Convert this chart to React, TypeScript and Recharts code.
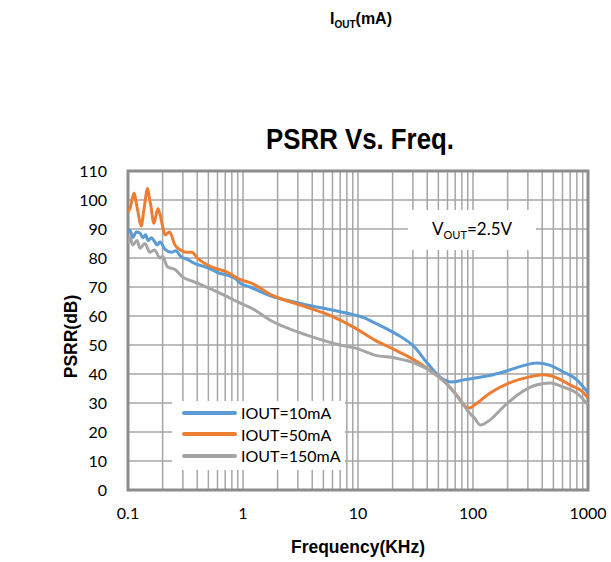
import React from 'react';
import {
  LineChart,
  Line,
  XAxis,
  YAxis,
  CartesianGrid,
  ReferenceArea,
} from 'recharts';

type Pt = { f: number; db: number };

// PSRR readings, frequency in kHz, rejection in dB
const iout10mA: [number, number][] = [
  [0.1, 89], [0.104, 89.6], [0.11, 87], [0.118, 89], [0.127, 88.6], [0.135, 87],
  [0.142, 88], [0.15, 86], [0.16, 87], [0.17, 85.7], [0.18, 84.5], [0.19, 85.5],
  [0.21, 83], [0.24, 82], [0.26, 82.5], [0.29, 80.4], [0.33, 79.5], [0.36, 78.6],
  [0.42, 77.5], [0.47, 77], [0.6, 75], [0.85, 73], [0.94, 71.4], [1.15, 70],
  [1.83, 66.6], [2.5, 65.3], [3.6, 63.8], [6.1, 62], [9.4, 60.3], [11.5, 59.3],
  [14, 57.6], [21, 54], [31, 49.3], [40, 43.8], [53, 38.6], [65, 37.2], [84, 38],
  [103, 38.6], [140, 39.5], [183, 40.7], [270, 42.8], [355, 43.8], [470, 43],
  [610, 40.7], [800, 38], [1000, 33.5],
];

const iout50mA: [number, number][] = [
  [0.1, 96], [0.104, 97], [0.113, 102.4], [0.118, 99], [0.122, 96], [0.13, 91],
  [0.138, 97], [0.148, 104], [0.153, 101], [0.158, 98], [0.168, 92], [0.182, 97],
  [0.19, 95], [0.2, 91], [0.21, 88], [0.23, 89], [0.256, 84.5], [0.28, 83],
  [0.32, 82], [0.36, 82], [0.4, 80], [0.47, 78], [0.57, 76.5], [0.74, 75],
  [0.94, 72.6], [1.15, 71.5], [1.83, 67], [3.6, 63], [6.1, 59.7], [9.4, 55.9],
  [14, 51.7], [21, 48.3], [31, 44.8], [44, 40.7], [57, 37.2], [70, 33.4],
  [88, 28.6], [94, 28.3], [103, 29.3], [140, 33.4], [210, 37], [310, 39],
  [410, 39.7], [540, 38.6], [700, 36.2], [900, 33.8], [1000, 31.7],
];

const iout150mA: [number, number][] = [
  [0.1, 85], [0.104, 87], [0.11, 84.5], [0.12, 86], [0.127, 83.4], [0.14, 85],
  [0.155, 82], [0.17, 82.8], [0.19, 80], [0.2, 80.5], [0.22, 77], [0.256, 76],
  [0.3, 73.4], [0.38, 71.7], [0.5, 69.7], [0.7, 67], [0.94, 64.5], [1.15, 63],
  [1.83, 58], [3.6, 53.4], [7, 50], [9.4, 49], [14, 46.5], [21, 45.5], [31, 43.8],
  [44, 40.7], [57, 37.2], [74, 32], [94, 26.5], [103, 24.8], [116, 22.4],
  [140, 24.1], [183, 28.6], [256, 33.4], [355, 36.2], [470, 36.9], [610, 35.5],
  [800, 33.4], [1000, 29.3],
];

const seriesNames = ['IOUT=10mA', 'IOUT=50mA', 'IOUT=150mA'];
const seriesColors = ['#5b9bd5', '#ed7d31', '#a5a5a5'];

const decadeLabels = [0.1, 1, 10, 100, 1000];
const freqGrid = [
  0.1, 0.2, 0.3, 0.4, 0.5, 0.6, 0.7, 0.8, 0.9,
  1, 2, 3, 4, 5, 6, 7, 8, 9,
  10, 20, 30, 40, 50, 60, 70, 80, 90,
  100, 200, 300, 400, 500, 600, 700, 800, 900,
  1000,
];
const dbTicks = [0, 10, 20, 30, 40, 50, 60, 70, 80, 90, 100, 110];

const toPts = (rows: [number, number][]): Pt[] => rows.map(([f, db]) => ({ f, db }));
const series = [iout10mA, iout50mA, iout150mA].map(toPts);

const tickFont = { fontFamily: 'Lato, sans-serif', fontSize: 16, fill: '#000' };
const boldSans = "'Liberation Sans', Arial, sans-serif";

// bold Arial squeezed horizontally to read like a narrow face
const squeezed = (
  cx: number,
  top: number,
  size: number,
  text: string,
  sx = 0.86,
  rotate = false,
) => (
  <div
    style={{
      position: 'absolute',
      left: cx - 200,
      top,
      width: 400,
      textAlign: 'center',
      fontFamily: boldSans,
      fontWeight: 700,
      fontSize: size,
      lineHeight: `${size + 2}px`,
      transform: rotate ? `rotate(-90deg) scaleX(${sx})` : `scaleX(${sx})`,
      transformOrigin: '50% 50%',
      whiteSpace: 'nowrap',
    }}
  >
    {text}
  </div>
);

function LegendBox() {
  return (
    <div
      style={{
        position: 'absolute',
        left: 172,
        top: 401,
        width: 173,
        padding: '1px 0 3px',
        background: '#fff',
        fontFamily: 'Lato, sans-serif',
        fontSize: 16,
        color: '#000',
      }}
    >
      {seriesNames.map((name, i) => (
        <div key={name} style={{ display: 'flex', alignItems: 'center', height: 21.5 }}>
          <div
            style={{
              marginLeft: 10,
              width: 55,
              height: 4,
              borderRadius: 2,
              background: seriesColors[i],
            }}
          />
          <span style={{ marginLeft: 4 }}>{name}</span>
        </div>
      ))}
    </div>
  );
}

export default function App() {
  return (
    <div
      style={{
        position: 'absolute',
        left: 0,
        top: 0,
        width: 611,
        height: 562,
        background: '#fff',
        overflow: 'hidden',
      }}
    >
      <div
        style={{
          position: 'absolute',
          left: 186,
          width: 350,
          top: 10,
          textAlign: 'center',
          fontFamily: boldSans,
          fontWeight: 700,
          fontSize: 16,
        }}
      >
        I<sub style={{ fontSize: 10 }}>OUT</sub>(mA)
      </div>
      {squeezed(360, 123, 30, 'PSRR Vs. Freq.')}

      <LineChart
        width={611}
        height={562}
        margin={{ top: 171, right: 23, bottom: 0, left: 0 }}
      >
        <CartesianGrid stroke="#a6a6a6" strokeWidth={1.5} horizontal vertical />
        <XAxis
          dataKey="f"
          type="number"
          scale="log"
          domain={[0.1, 1000]}
          ticks={freqGrid}
          interval={0}
          allowDataOverflow
          height={72}
          tickLine={false}
          axisLine={false}
          tickMargin={12}
          tick={tickFont}
          tickFormatter={(v: number) => (decadeLabels.includes(v) ? String(v) : '')}
        />
        <YAxis
          type="number"
          domain={[0, 110]}
          ticks={dbTicks}
          interval={0}
          width={128}
          tickLine={false}
          axisLine={false}
          tickMargin={15}
          tick={tickFont}
        />
        <ReferenceArea
          x1={0.1}
          x2={1000}
          y1={0}
          y2={110}
          fill="none"
          stroke="#8c8c8c"
          strokeWidth={3}
          ifOverflow="visible"
        />
        {series.map((pts, i) => (
          <Line
            key={seriesNames[i]}
            data={pts}
            dataKey="db"
            name={seriesNames[i]}
            type="monotone"
            stroke={seriesColors[i]}
            strokeWidth={3}
            dot={false}
            isAnimationActive={false}
          />
        ))}
      </LineChart>

      {squeezed(358, 536, 19, 'Frequency(KHz)', 0.92)}
      {squeezed(70, 326, 19, 'PSRR(dB)', 0.92, true)}

      <LegendBox />

      <div
        style={{
          position: 'absolute',
          left: 408,
          top: 210,
          width: 128,
          height: 40,
          background: '#fff',
          display: 'flex',
          alignItems: 'center',
          justifyContent: 'center',
          fontFamily: 'Lato, sans-serif',
          fontSize: 17,
        }}
      >
        <span>
          V<sub style={{ fontSize: 11 }}>OUT</sub>=2.5V
        </span>
      </div>
    </div>
  );
}
